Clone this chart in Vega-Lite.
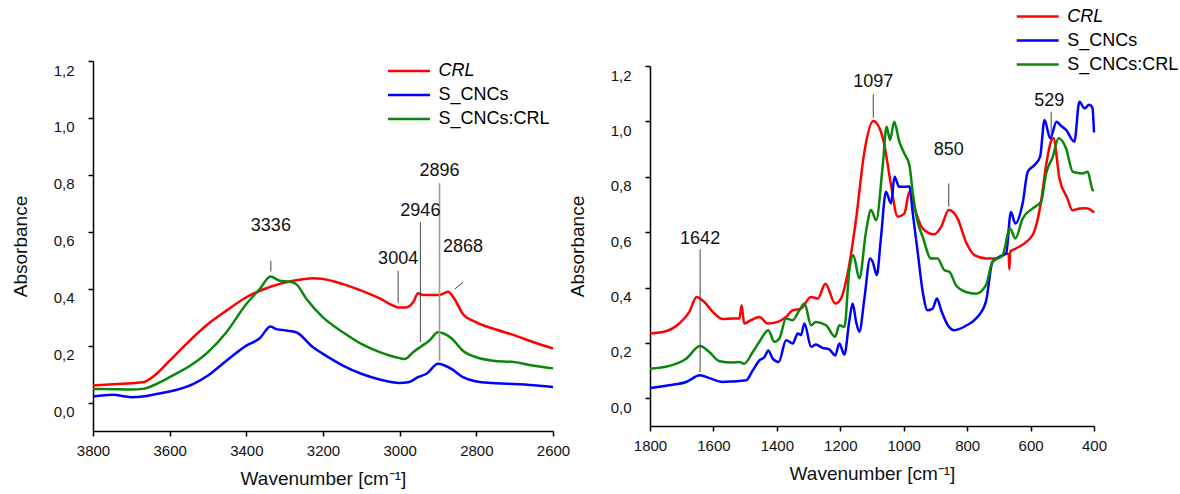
{
  "$schema": "https://vega.github.io/schema/vega-lite/v6.json",
  "background": "white",
  "padding": {"left": 11, "top": 5, "right": 5, "bottom": 2},
  "config": {
    "font": "Liberation Sans",
    "view": {"stroke": null},
    "axis": {"labelColor": "#111", "titleColor": "#111", "labelFontSize": 15, "titleFontSize": 19, "titleFontWeight": "normal", "grid": false, "labelFlush": false, "labelOverlap": false, "domain": true, "ticks": true, "domainColor": "#000", "tickColor": "#000", "domainWidth": 1.5, "tickWidth": 1.5},
    "concat": {"spacing": 97}
  },
  "datasets": {
    "L": [
      {"s":"CRL","w":3800,"a":0.060},{"s":"CRL","w":3748,"a":0.064},{"s":"CRL","w":3700,"a":0.068},{"s":"CRL","w":3670,"a":0.071},{"s":"CRL","w":3635,"a":0.100},{"s":"CRL","w":3600,"a":0.147},{"s":"CRL","w":3561,"a":0.200},{"s":"CRL","w":3500,"a":0.276},{"s":"CRL","w":3452,"a":0.323},{"s":"CRL","w":3400,"a":0.370},{"s":"CRL","w":3337,"a":0.407},{"s":"CRL","w":3278,"a":0.428},{"s":"CRL","w":3226,"a":0.437},{"s":"CRL","w":3200,"a":0.434},{"s":"CRL","w":3148,"a":0.416},{"s":"CRL","w":3100,"a":0.393},{"s":"CRL","w":3052,"a":0.366},{"s":"CRL","w":3000,"a":0.334},{"s":"CRL","w":2983,"a":0.334},{"s":"CRL","w":2965,"a":0.352},{"s":"CRL","w":2952,"a":0.384},{"s":"CRL","w":2939,"a":0.378},{"s":"CRL","w":2896,"a":0.378},{"s":"CRL","w":2874,"a":0.389},{"s":"CRL","w":2857,"a":0.364},{"s":"CRL","w":2835,"a":0.311},{"s":"CRL","w":2800,"a":0.282},{"s":"CRL","w":2757,"a":0.260},{"s":"CRL","w":2700,"a":0.236},{"s":"CRL","w":2650,"a":0.212},{"s":"CRL","w":2600,"a":0.190},
      {"s":"S_CNCs:CRL","w":3800,"a":0.048},{"s":"S_CNCs:CRL","w":3748,"a":0.047},{"s":"S_CNCs:CRL","w":3700,"a":0.046},{"s":"S_CNCs:CRL","w":3670,"a":0.048},{"s":"S_CNCs:CRL","w":3635,"a":0.065},{"s":"S_CNCs:CRL","w":3600,"a":0.089},{"s":"S_CNCs:CRL","w":3539,"a":0.136},{"s":"S_CNCs:CRL","w":3500,"a":0.177},{"s":"S_CNCs:CRL","w":3452,"a":0.247},{"s":"S_CNCs:CRL","w":3400,"a":0.346},{"s":"S_CNCs:CRL","w":3365,"a":0.399},{"s":"S_CNCs:CRL","w":3337,"a":0.443},{"s":"S_CNCs:CRL","w":3313,"a":0.428},{"s":"S_CNCs:CRL","w":3287,"a":0.425},{"s":"S_CNCs:CRL","w":3270,"a":0.416},{"s":"S_CNCs:CRL","w":3243,"a":0.364},{"s":"S_CNCs:CRL","w":3200,"a":0.299},{"s":"S_CNCs:CRL","w":3148,"a":0.247},{"s":"S_CNCs:CRL","w":3100,"a":0.206},{"s":"S_CNCs:CRL","w":3052,"a":0.177},{"s":"S_CNCs:CRL","w":3000,"a":0.156},{"s":"S_CNCs:CRL","w":2987,"a":0.153},{"s":"S_CNCs:CRL","w":2965,"a":0.177},{"s":"S_CNCs:CRL","w":2943,"a":0.198},{"s":"S_CNCs:CRL","w":2922,"a":0.218},{"s":"S_CNCs:CRL","w":2900,"a":0.247},{"s":"S_CNCs:CRL","w":2865,"a":0.226},{"s":"S_CNCs:CRL","w":2835,"a":0.182},{"s":"S_CNCs:CRL","w":2800,"a":0.159},{"s":"S_CNCs:CRL","w":2757,"a":0.147},{"s":"S_CNCs:CRL","w":2700,"a":0.142},{"s":"S_CNCs:CRL","w":2661,"a":0.132},{"s":"S_CNCs:CRL","w":2600,"a":0.120},
      {"s":"S_CNCs","w":3800,"a":0.021},{"s":"S_CNCs","w":3748,"a":0.027},{"s":"S_CNCs","w":3700,"a":0.019},{"s":"S_CNCs","w":3670,"a":0.021},{"s":"S_CNCs","w":3635,"a":0.030},{"s":"S_CNCs","w":3600,"a":0.039},{"s":"S_CNCs","w":3539,"a":0.065},{"s":"S_CNCs","w":3500,"a":0.095},{"s":"S_CNCs","w":3452,"a":0.147},{"s":"S_CNCs","w":3400,"a":0.200},{"s":"S_CNCs","w":3365,"a":0.226},{"s":"S_CNCs","w":3337,"a":0.267},{"s":"S_CNCs","w":3322,"a":0.258},{"s":"S_CNCs","w":3296,"a":0.253},{"s":"S_CNCs","w":3270,"a":0.247},{"s":"S_CNCs","w":3226,"a":0.194},{"s":"S_CNCs","w":3200,"a":0.171},{"s":"S_CNCs","w":3148,"a":0.130},{"s":"S_CNCs","w":3100,"a":0.101},{"s":"S_CNCs","w":3052,"a":0.081},{"s":"S_CNCs","w":3000,"a":0.069},{"s":"S_CNCs","w":2978,"a":0.071},{"s":"S_CNCs","w":2952,"a":0.089},{"s":"S_CNCs","w":2930,"a":0.101},{"s":"S_CNCs","w":2900,"a":0.136},{"s":"S_CNCs","w":2865,"a":0.118},{"s":"S_CNCs","w":2835,"a":0.089},{"s":"S_CNCs","w":2800,"a":0.074},{"s":"S_CNCs","w":2757,"a":0.069},{"s":"S_CNCs","w":2700,"a":0.065},{"s":"S_CNCs","w":2661,"a":0.062},{"s":"S_CNCs","w":2600,"a":0.055}
    ],
    "R": [
      {"s":"CRL","w":1800,"a":0.234},{"s":"CRL","w":1750,"a":0.242},{"s":"CRL","w":1708,"a":0.270},{"s":"CRL","w":1676,"a":0.312},{"s":"CRL","w":1653,"a":0.366},{"s":"CRL","w":1629,"a":0.348},{"s":"CRL","w":1602,"a":0.312},{"s":"CRL","w":1571,"a":0.286},{"s":"CRL","w":1539,"a":0.288},{"s":"CRL","w":1518,"a":0.288},{"s":"CRL","w":1511,"a":0.336},{"s":"CRL","w":1503,"a":0.270},{"s":"CRL","w":1482,"a":0.282},{"s":"CRL","w":1455,"a":0.294},{"s":"CRL","w":1429,"a":0.270},{"s":"CRL","w":1397,"a":0.276},{"s":"CRL","w":1371,"a":0.294},{"s":"CRL","w":1350,"a":0.318},{"s":"CRL","w":1324,"a":0.324},{"s":"CRL","w":1292,"a":0.366},{"s":"CRL","w":1271,"a":0.360},{"s":"CRL","w":1247,"a":0.414},{"s":"CRL","w":1216,"a":0.342},{"s":"CRL","w":1198,"a":0.360},{"s":"CRL","w":1172,"a":0.481},{"s":"CRL","w":1150,"a":0.649},{"s":"CRL","w":1124,"a":0.890},{"s":"CRL","w":1096,"a":1.001},{"s":"CRL","w":1066,"a":0.940},{"s":"CRL","w":1061,"a":0.915},{"s":"CRL","w":1040,"a":0.770},{"s":"CRL","w":1019,"a":0.656},{"s":"CRL","w":998,"a":0.667},{"s":"CRL","w":982,"a":0.746},{"s":"CRL","w":966,"a":0.686},{"s":"CRL","w":940,"a":0.613},{"s":"CRL","w":904,"a":0.592},{"s":"CRL","w":882,"a":0.619},{"s":"CRL","w":858,"a":0.680},{"s":"CRL","w":830,"a":0.649},{"s":"CRL","w":804,"a":0.565},{"s":"CRL","w":777,"a":0.517},{"s":"CRL","w":740,"a":0.505},{"s":"CRL","w":709,"a":0.505},{"s":"CRL","w":677,"a":0.523},{"s":"CRL","w":669,"a":0.520},{"s":"CRL","w":667,"a":0.466},{"s":"CRL","w":664,"a":0.530},{"s":"CRL","w":646,"a":0.541},{"s":"CRL","w":594,"a":0.589},{"s":"CRL","w":567,"a":0.710},{"s":"CRL","w":551,"a":0.842},{"s":"CRL","w":536,"a":0.927},{"s":"CRL","w":528,"a":0.940},{"s":"CRL","w":509,"a":0.794},{"s":"CRL","w":484,"a":0.722},{"s":"CRL","w":468,"a":0.679},{"s":"CRL","w":445,"a":0.685},{"s":"CRL","w":425,"a":0.686},{"s":"CRL","w":404,"a":0.675},{"s":"CRL","w":400,"a":0.670},
      {"s":"S_CNCs","w":1800,"a":0.037},{"s":"S_CNCs","w":1739,"a":0.047},{"s":"S_CNCs","w":1686,"a":0.059},{"s":"S_CNCs","w":1642,"a":0.083},{"s":"S_CNCs","w":1613,"a":0.073},{"s":"S_CNCs","w":1571,"a":0.059},{"s":"S_CNCs","w":1539,"a":0.061},{"s":"S_CNCs","w":1497,"a":0.065},{"s":"S_CNCs","w":1476,"a":0.101},{"s":"S_CNCs","w":1455,"a":0.137},{"s":"S_CNCs","w":1439,"a":0.149},{"s":"S_CNCs","w":1427,"a":0.173},{"s":"S_CNCs","w":1413,"a":0.143},{"s":"S_CNCs","w":1394,"a":0.131},{"s":"S_CNCs","w":1371,"a":0.210},{"s":"S_CNCs","w":1350,"a":0.198},{"s":"S_CNCs","w":1334,"a":0.234},{"s":"S_CNCs","w":1324,"a":0.228},{"s":"S_CNCs","w":1313,"a":0.270},{"s":"S_CNCs","w":1292,"a":0.186},{"s":"S_CNCs","w":1277,"a":0.194},{"s":"S_CNCs","w":1256,"a":0.182},{"s":"S_CNCs","w":1235,"a":0.177},{"s":"S_CNCs","w":1216,"a":0.155},{"s":"S_CNCs","w":1203,"a":0.198},{"s":"S_CNCs","w":1187,"a":0.158},{"s":"S_CNCs","w":1172,"a":0.276},{"s":"S_CNCs","w":1161,"a":0.342},{"s":"S_CNCs","w":1150,"a":0.276},{"s":"S_CNCs","w":1140,"a":0.240},{"s":"S_CNCs","w":1124,"a":0.360},{"s":"S_CNCs","w":1106,"a":0.505},{"s":"S_CNCs","w":1098,"a":0.493},{"s":"S_CNCs","w":1085,"a":0.445},{"s":"S_CNCs","w":1072,"a":0.577},{"s":"S_CNCs","w":1056,"a":0.746},{"s":"S_CNCs","w":1040,"a":0.704},{"s":"S_CNCs","w":1029,"a":0.800},{"s":"S_CNCs","w":1014,"a":0.764},{"s":"S_CNCs","w":993,"a":0.764},{"s":"S_CNCs","w":982,"a":0.765},{"s":"S_CNCs","w":972,"a":0.673},{"s":"S_CNCs","w":956,"a":0.529},{"s":"S_CNCs","w":940,"a":0.384},{"s":"S_CNCs","w":925,"a":0.318},{"s":"S_CNCs","w":909,"a":0.324},{"s":"S_CNCs","w":895,"a":0.360},{"s":"S_CNCs","w":882,"a":0.318},{"s":"S_CNCs","w":861,"a":0.264},{"s":"S_CNCs","w":840,"a":0.246},{"s":"S_CNCs","w":804,"a":0.262},{"s":"S_CNCs","w":772,"a":0.288},{"s":"S_CNCs","w":741,"a":0.348},{"s":"S_CNCs","w":720,"a":0.493},{"s":"S_CNCs","w":698,"a":0.511},{"s":"S_CNCs","w":677,"a":0.523},{"s":"S_CNCs","w":662,"a":0.673},{"s":"S_CNCs","w":648,"a":0.631},{"s":"S_CNCs","w":625,"a":0.704},{"s":"S_CNCs","w":609,"a":0.818},{"s":"S_CNCs","w":588,"a":0.842},{"s":"S_CNCs","w":570,"a":0.872},{"s":"S_CNCs","w":556,"a":1.005},{"s":"S_CNCs","w":538,"a":0.939},{"s":"S_CNCs","w":518,"a":0.999},{"s":"S_CNCs","w":505,"a":0.985},{"s":"S_CNCs","w":488,"a":0.969},{"s":"S_CNCs","w":462,"a":0.927},{"s":"S_CNCs","w":446,"a":1.071},{"s":"S_CNCs","w":430,"a":1.047},{"s":"S_CNCs","w":415,"a":1.060},{"s":"S_CNCs","w":405,"a":1.050},{"s":"S_CNCs","w":400,"a":0.960},
      {"s":"S_CNCs:CRL","w":1800,"a":0.107},{"s":"S_CNCs:CRL","w":1739,"a":0.117},{"s":"S_CNCs:CRL","w":1686,"a":0.143},{"s":"S_CNCs:CRL","w":1642,"a":0.189},{"s":"S_CNCs:CRL","w":1613,"a":0.167},{"s":"S_CNCs:CRL","w":1581,"a":0.134},{"s":"S_CNCs:CRL","w":1539,"a":0.129},{"s":"S_CNCs:CRL","w":1518,"a":0.131},{"s":"S_CNCs:CRL","w":1503,"a":0.125},{"s":"S_CNCs:CRL","w":1476,"a":0.167},{"s":"S_CNCs:CRL","w":1455,"a":0.204},{"s":"S_CNCs:CRL","w":1427,"a":0.246},{"s":"S_CNCs:CRL","w":1408,"a":0.204},{"s":"S_CNCs:CRL","w":1392,"a":0.216},{"s":"S_CNCs:CRL","w":1371,"a":0.288},{"s":"S_CNCs:CRL","w":1350,"a":0.282},{"s":"S_CNCs:CRL","w":1329,"a":0.318},{"s":"S_CNCs:CRL","w":1313,"a":0.342},{"s":"S_CNCs:CRL","w":1292,"a":0.264},{"s":"S_CNCs:CRL","w":1277,"a":0.276},{"s":"S_CNCs:CRL","w":1245,"a":0.264},{"s":"S_CNCs:CRL","w":1216,"a":0.222},{"s":"S_CNCs:CRL","w":1203,"a":0.264},{"s":"S_CNCs:CRL","w":1187,"a":0.258},{"s":"S_CNCs:CRL","w":1172,"a":0.457},{"s":"S_CNCs:CRL","w":1159,"a":0.517},{"s":"S_CNCs:CRL","w":1140,"a":0.433},{"s":"S_CNCs:CRL","w":1119,"a":0.601},{"s":"S_CNCs:CRL","w":1103,"a":0.680},{"s":"S_CNCs:CRL","w":1087,"a":0.643},{"s":"S_CNCs:CRL","w":1066,"a":0.842},{"s":"S_CNCs:CRL","w":1054,"a":0.981},{"s":"S_CNCs:CRL","w":1043,"a":0.933},{"s":"S_CNCs:CRL","w":1030,"a":0.999},{"s":"S_CNCs:CRL","w":1014,"a":0.927},{"s":"S_CNCs:CRL","w":998,"a":0.884},{"s":"S_CNCs:CRL","w":982,"a":0.842},{"s":"S_CNCs:CRL","w":972,"a":0.746},{"s":"S_CNCs:CRL","w":956,"a":0.637},{"s":"S_CNCs:CRL","w":940,"a":0.583},{"s":"S_CNCs:CRL","w":914,"a":0.505},{"s":"S_CNCs:CRL","w":893,"a":0.505},{"s":"S_CNCs:CRL","w":872,"a":0.463},{"s":"S_CNCs:CRL","w":856,"a":0.457},{"s":"S_CNCs:CRL","w":835,"a":0.408},{"s":"S_CNCs:CRL","w":804,"a":0.384},{"s":"S_CNCs:CRL","w":772,"a":0.378},{"s":"S_CNCs:CRL","w":741,"a":0.408},{"s":"S_CNCs:CRL","w":720,"a":0.493},{"s":"S_CNCs:CRL","w":688,"a":0.517},{"s":"S_CNCs:CRL","w":665,"a":0.613},{"s":"S_CNCs:CRL","w":648,"a":0.577},{"s":"S_CNCs:CRL","w":625,"a":0.649},{"s":"S_CNCs:CRL","w":593,"a":0.686},{"s":"S_CNCs:CRL","w":567,"a":0.710},{"s":"S_CNCs:CRL","w":551,"a":0.812},{"s":"S_CNCs:CRL","w":530,"a":0.872},{"s":"S_CNCs:CRL","w":512,"a":0.939},{"s":"S_CNCs:CRL","w":488,"a":0.902},{"s":"S_CNCs:CRL","w":467,"a":0.818},{"s":"S_CNCs:CRL","w":436,"a":0.812},{"s":"S_CNCs:CRL","w":420,"a":0.818},{"s":"S_CNCs:CRL","w":404,"a":0.752},{"s":"S_CNCs:CRL","w":400,"a":0.750}
    ],
    "annL": [
      {"t":"3336","w":3336,"a":0.621},{"t":"3004","w":3004,"a":0.504},{"t":"2946","w":2946,"a":0.674},{"t":"2896","w":2896,"a":0.812},{"t":"2868","w":2835,"a":0.545}
    ],
    "leadL": [
      {"t":"3336","w":3336,"a":0.498,"w2":3336,"a2":0.460},{"t":"3004","w":3004,"a":0.463,"w2":3004,"a2":0.349},{"t":"2946","w":2946,"a":0.634,"w2":2946,"a2":0.212},{"t":"2868","w":2856,"a":0.399,"w2":2835,"a2":0.422},{"t":"2896","w":2896,"a":0.771,"w2":2896,"a2":0.147}
    ],
    "annR": [
      {"t":"1642","w":1642,"a":0.577},{"t":"1097","w":1096,"a":1.143},{"t":"850","w":858,"a":0.896},{"t":"529","w":541,"a":1.075}
    ],
    "leadR": [
      {"t":"1642","w":1642,"a":0.538,"w2":1642,"a2":0.095},{"t":"1097","w":1096,"a":1.098,"w2":1096,"a2":1.013},{"t":"850","w":858,"a":0.776,"w2":858,"a2":0.692},{"t":"529","w":535,"a":1.035,"w2":535,"a2":0.939}
    ]
  },
  "bounds": "flush",
  "center": true,
  "resolve": {"legend": {"color": "independent"}},
  "hconcat": [
    {
      "width": 460,
      "height": 370,
      "layer": [
        {
          "data": {"name": "L"},
          "mark": {"type": "line", "strokeWidth": 2.5, "interpolate": "monotone"},
          "encoding": {
            "x": {"field": "w", "type": "quantitative", "scale": {"domain": [2600, 3800], "reverse": true, "nice": false, "zero": false},
              "axis": {"title": "Wavenumber [cm⁻¹]", "values": [2600,2700,2800,2900,3000,3100,3200,3300,3400,3500,3600,3700,3800], "format": "d", "labelExpr": "datum.value % 200 === 0 ? datum.label : ''", "tickSize": {"condition": {"test": "datum.value % 200 === 0", "value": 5}, "value": 3}, "labelPadding": 7, "titlePadding": 11}},
            "y": {"field": "a", "type": "quantitative", "scale": {"domain": [-0.1, 1.2], "nice": false, "zero": false},
              "axis": {"title": "Absorbance", "values": [0,0.1,0.2,0.3,0.4,0.5,0.6,0.7,0.8,0.9,1.0,1.1,1.2], "labelExpr": "round(datum.value*10) % 2 === 0 ? replace(format(datum.value, '.1f'), '.', ',') : ''", "tickSize": {"condition": {"test": "round(datum.value*10) % 2 === 0", "value": 5}, "value": 3}, "labelOffset": 9, "labelPadding": 14, "titlePadding": 23}},
            "color": {"field": "s", "type": "nominal", "scale": {"domain": ["CRL", "S_CNCs", "S_CNCs:CRL"], "range": ["#ff0000", "#0000ff", "#0a870a"]},
              "legend": {"orient": "none", "legendX": 304.5, "legendY": -1.5, "title": null, "symbolType": "M-2.1,0H2.1", "symbolSize": 400, "symbolStrokeWidth": 2.5, "labelFontSize": 18, "labelOffset": 18, "rowPadding": 3, "padding": 0, "labelColor": "#000", "labelLimit": 300,
                "encode": {"labels": {"update": {"fontStyle": {"signal": "datum.label === 'CRL' ? 'italic' : 'normal'"}}}}}}
          }
        },
        {
          "data": {"name": "leadL"},
          "transform": [{"filter": "datum.t !== '2896'"}],
          "mark": {"type": "rule", "color": "#444", "strokeWidth": 1},
          "encoding": {"x": {"field": "w", "type": "quantitative"}, "y": {"field": "a", "type": "quantitative"}, "x2": {"field": "w2"}, "y2": {"field": "a2"}}
        },
        {
          "data": {"name": "leadL"},
          "transform": [{"filter": "datum.t === '2896'"}],
          "mark": {"type": "rule", "color": "#999", "strokeWidth": 1.6},
          "encoding": {"x": {"field": "w", "type": "quantitative"}, "y": {"field": "a", "type": "quantitative"}, "x2": {"field": "w2"}, "y2": {"field": "a2"}}
        },
        {
          "data": {"name": "annL"},
          "mark": {"type": "text", "fontSize": 18, "baseline": "middle", "align": "center", "color": "#111"},
          "encoding": {"x": {"field": "w", "type": "quantitative"}, "y": {"field": "a", "type": "quantitative"}, "text": {"field": "t"}}
        }
      ]
    },
    {
      "width": 444,
      "height": 360,
      "layer": [
        {
          "data": {"name": "R"},
          "mark": {"type": "line", "strokeWidth": 2.5, "interpolate": "monotone"},
          "encoding": {
            "x": {"field": "w", "type": "quantitative", "scale": {"domain": [400, 1800], "reverse": true, "nice": false, "zero": false},
              "axis": {"title": "Wavenumber [cm⁻¹]", "values": [400,500,600,700,800,900,1000,1100,1200,1300,1400,1500,1600,1700,1800], "format": "d", "labelExpr": "datum.value % 200 === 0 ? datum.label : ''", "tickSize": {"condition": {"test": "datum.value % 200 === 0", "value": 5}, "value": 3}, "labelPadding": 7, "titlePadding": 11}},
            "y": {"field": "a", "type": "quantitative", "scale": {"domain": [-0.1, 1.2], "nice": false, "zero": false},
              "axis": {"title": "Absorbance", "values": [0,0.1,0.2,0.3,0.4,0.5,0.6,0.7,0.8,0.9,1.0,1.1,1.2], "labelExpr": "round(datum.value*10) % 2 === 0 ? replace(format(datum.value, '.1f'), '.', ',') : ''", "tickSize": {"condition": {"test": "round(datum.value*10) % 2 === 0", "value": 5}, "value": 3}, "labelOffset": 9, "labelPadding": 14, "titlePadding": 23}},
            "color": {"field": "s", "type": "nominal", "scale": {"domain": ["CRL", "S_CNCs", "S_CNCs:CRL"], "range": ["#ff0000", "#0000ff", "#0a870a"]},
              "legend": {"orient": "none", "legendX": 376.2, "legendY": -61, "title": null, "symbolType": "M-2.1,0H2.1", "symbolSize": 400, "symbolStrokeWidth": 2.5, "labelFontSize": 18, "labelOffset": 18, "rowPadding": 3, "padding": 0, "labelColor": "#000", "labelLimit": 300,
                "encode": {"labels": {"update": {"fontStyle": {"signal": "datum.label === 'CRL' ? 'italic' : 'normal'"}}}}}}
          }
        },
        {
          "data": {"name": "leadR"},
          "mark": {"type": "rule", "color": "#444", "strokeWidth": 1},
          "encoding": {"x": {"field": "w", "type": "quantitative"}, "y": {"field": "a", "type": "quantitative"}, "x2": {"field": "w2"}, "y2": {"field": "a2"}}
        },
        {
          "data": {"name": "annR"},
          "mark": {"type": "text", "fontSize": 18, "baseline": "middle", "align": "center", "color": "#111"},
          "encoding": {"x": {"field": "w", "type": "quantitative"}, "y": {"field": "a", "type": "quantitative"}, "text": {"field": "t"}}
        }
      ]
    }
  ]
}
